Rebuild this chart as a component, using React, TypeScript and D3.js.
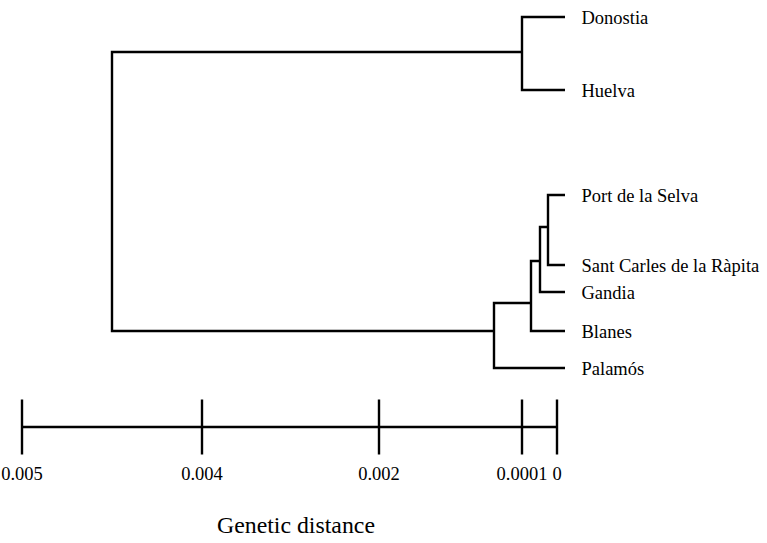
import React from "react";
import * as d3 from "d3";

// Leaves (top to bottom), with their vertical row positions
const leafNames = [
  "Donostia",
  "Huelva",
  "Port de la Selva",
  "Sant Carles de la Ràpita",
  "Gandia",
  "Blanes",
  "Palamós",
];
const leafRows = [0, 2.0, 4.89, 6.81, 7.565, 8.63, 9.656];

// Internal nodes: id, two children, genetic distance (height), row
const nodeIds = ["DH", "PS", "G", "B", "C", "root"];
const nodeChildren: [string, string][] = [
  ["Donostia", "Huelva"],
  ["Port de la Selva", "Sant Carles de la Ràpita"],
  ["PS", "Gandia"],
  ["G", "Blanes"],
  ["B", "Palamós"],
  ["DH", "C"],
];
const nodeHeights = [0.0001, 0.000026, 0.00005, 0.000075, 0.000475, 0.0045];
const nodeRows = [0.963, 5.76, 6.7, 7.85, 8.63, 4.8];

// Axis tick values & labels
const tickValues = [0.005, 0.004, 0.002, 0.0001, 0];
const tickLabels = ["0.005", "0.004", "0.002", "0.0001", "0"];
const axisTitle = "Genetic distance";

const W = 767;
const H = 543;
const FONT =
  "'Liberation Serif', 'Nimbus Roman', 'Nimbus Roman No9 L', Tinos, 'Times New Roman', Times, FreeSerif, 'DejaVu Serif', serif";

export default function App() {
  const x = d3
    .scaleLinear()
    .domain(tickValues)
    .range([22, 202, 379, 522, 557]);
  const y = d3.scaleLinear().domain([0, 10]).range([17.3, 380.8]);
  const tipExt = 7.5;
  const r = (v: number) => Math.round(v);

  const pos: Record<string, { x: number; y: number }> = {};
  leafNames.forEach((n, i) => {
    pos[n] = { x: r(x(0) + tipExt), y: r(y(leafRows[i])) };
  });
  nodeIds.forEach((id, i) => {
    pos[id] = { x: r(x(nodeHeights[i])), y: r(y(nodeRows[i])) };
  });

  const axisY = 427;
  const tickHalf = 27.5;
  const textStyle = { fontFamily: FONT };

  return (
    <svg
      width={W}
      height={H}
      style={{ position: "absolute", left: 0, top: 0, background: "#fff" }}
    >
      <rect width={W} height={H} fill="#fff" />
      <g fill="none" stroke="#000" strokeWidth={2.4} strokeLinejoin="miter">
        {nodeIds.map((id, i) => {
          const [a, b] = nodeChildren[i];
          const p = pos[id];
          const ca = pos[a];
          const cb = pos[b];
          const d = `M${ca.x},${ca.y}H${p.x}V${cb.y}H${cb.x}`;
          return <path key={id} d={d} />;
        })}
      </g>
      <g fill="#000">
        {leafNames.map((n) => (
          <text
            key={n}
            x={pos[n].x + 16.5}
            y={pos[n].y + 7}
            fontSize={18.5}
            style={textStyle}
          >
            {n}
          </text>
        ))}
      </g>
      <g stroke="#000" strokeWidth={2.4}>
        <line x1={x(tickValues[0])} x2={x(0)} y1={axisY} y2={axisY} />
        {tickValues.map((v) => (
          <line
            key={v}
            x1={r(x(v))}
            x2={r(x(v))}
            y1={axisY - tickHalf}
            y2={axisY + tickHalf}
          />
        ))}
      </g>
      <g fill="#000">
        {tickValues.map((v, i) => (
          <text
            key={v}
            x={x(v)}
            y={480}
            fontSize={18.5}
            textAnchor="middle"
            style={textStyle}
          >
            {tickLabels[i]}
          </text>
        ))}
      </g>
      <text
        x={296}
        y={533}
        fontSize={23.8}
        textAnchor="middle"
        fill="#000"
        style={textStyle}
      >
        {axisTitle}
      </text>
    </svg>
  );
}
